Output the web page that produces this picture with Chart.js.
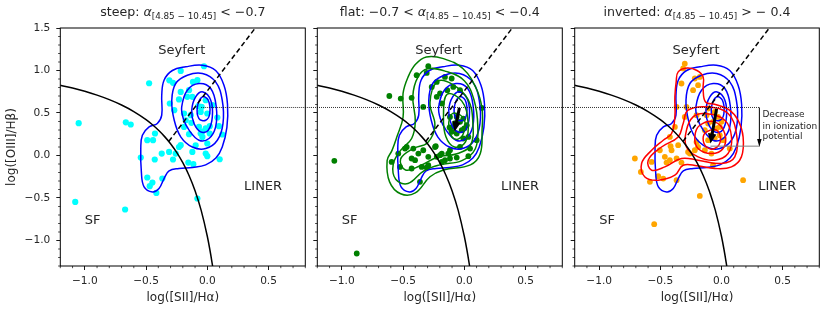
<!DOCTYPE html>
<html>
<head>
<meta charset="utf-8">
<script src="https://cdn.jsdelivr.net/npm/chart.js@4.4.1/dist/chart.umd.min.js"></script>
<style>
  html, body { margin: 0; padding: 0; background: #fff; }
  #wrap { position: relative; width: 831px; height: 311px; }
  #wrap canvas { position: absolute; top: 0; }
</style>
</head>
<body>
<div id="wrap">
  <canvas id="steepChart" width="311" height="311" style="left:0px"></canvas>
  <canvas id="flatChart" width="257" height="311" style="left:311px"></canvas>
  <canvas id="invertedChart" width="263" height="311" style="left:568px"></canvas>
</div>
<script>
const fontFamily = "'DejaVu Sans', sans-serif";
const textColor = '#262626';

// axes
const xTickVals = [-1.0, -0.5, 0.0, 0.5];
const xTickLabels = ['−1.0', '−0.5', '0.0', '0.5'];
const yTickVals = [-1.0, -0.5, 0.0, 0.5, 1.0, 1.5];
const yTickLabels = ['−1.0', '−0.5', '0.0', '0.5', '1.0', '1.5'];
const xTitle = 'log([SII]/Hα)';
const yTitle = 'log([OIII]/Hβ)';

// panel titles: plain, italic alpha, subscript, rest
const titleParts = [
  ['steep: ', 'α', '[4.85 − 10.45]', ' < −0.7'],
  ['flat: −0.7 < ', 'α', '[4.85 − 10.45]', ' < −0.4'],
  ['inverted: ', 'α', '[4.85 − 10.45]', ' > − 0.4']
];

// SF / AGN curve and Seyfert-LINER line
const sfCurve = [[-1.2, 0.826], [-1.1, 0.793], [-1.0, 0.755], [-0.9, 0.710], [-0.8, 0.657],
  [-0.7, 0.594], [-0.6, 0.517], [-0.5, 0.422], [-0.45, 0.365], [-0.4, 0.300], [-0.35, 0.225],
  [-0.3, 0.139], [-0.25, 0.037], [-0.2, -0.085], [-0.15, -0.232], [-0.1, -0.414],
  [-0.05, -0.646], [0.0, -0.950], [0.02, -1.100], [0.04, -1.271], [0.045, -1.318]];
const seyLinerLine = [[-0.315, 0.165], [0.39, 1.497]];

const regionNames = ['Seyfert', 'LINER', 'SF'];
const regionPos = [[-0.4, 1.2], [0.3, -0.4], [-1.0, -0.8]];

// sources
const steepPts = [[-1.05, 0.38], [-0.665, 0.39], [-0.625, 0.365], [-0.475, 0.85], [-0.217, 0.995],
  [-0.027, 1.05], [-0.31, 0.885], [-0.28, 0.855], [-0.117, 0.866], [-0.081, 0.886], [-0.217, 0.748],
  [-0.149, 0.768], [-0.122, 0.69], [-0.231, 0.66], [-0.073, 0.58], [-0.046, 0.572], [0.041, 0.592],
  [-0.013, 0.65], [-0.054, 0.513], [0.0, 0.494], [0.082, 0.447], [-0.306, 0.612], [-0.27, 0.533],
  [-0.19, 0.494], [-0.176, 0.415], [-0.13, 0.384], [-0.068, 0.336], [-0.013, 0.318], [0.02, 0.345],
  [0.095, 0.345], [-0.19, 0.336], [-0.149, 0.251], [-0.054, 0.259], [-0.04, 0.219], [0.0, 0.141],
  [0.122, 0.247], [-0.49, 0.18], [-0.443, 0.18], [-0.427, 0.259], [-0.231, 0.10], [-0.372, 0.023],
  [-0.312, 0.042], [-0.122, 0.042], [-0.013, 0.023], [-0.543, -0.024], [-0.429, -0.047],
  [-0.28, -0.047], [-0.258, 0.023], [-0.155, -0.083], [-0.114, -0.102], [0.0, -0.008],
  [0.101, -0.044], [-0.49, -0.259], [-0.448, -0.318], [-0.47, -0.361], [-0.367, -0.271],
  [-0.416, -0.44], [-0.081, -0.506], [-1.078, -0.546], [-0.671, -0.635], [-0.095, 0.12],
  [-0.217, 0.121], [-0.135, 0.474], [-0.163, 0.69], [-0.042, 0.28], [0.02, 0.259]];

const flatPts = [[-0.294, 1.05], [-0.389, 0.945], [-0.612, 0.70], [-0.519, 0.67], [-0.43, 0.678],
  [-0.335, 0.572], [-0.266, 0.807], [-0.225, 0.866], [-0.158, 0.925], [-0.103, 0.906], [-0.198, 0.73],
  [-0.09, 0.807], [-0.035, 0.768], [-0.184, 0.612], [-0.117, 0.454], [-0.062, 0.454], [-0.008, 0.435],
  [-0.035, 0.396], [0.02, 0.356], [-0.09, 0.336], [-0.021, 0.298], [-0.062, 0.259], [0.033, 0.219],
  [-0.103, 0.278], [-0.008, 0.20], [0.101, 0.18], [0.142, 0.56], [-0.035, 0.10], [0.047, 0.082],
  [-0.117, 0.062], [-0.184, 0.023], [-0.239, 0.10], [-0.294, -0.016], [-0.335, 0.062],
  [-0.375, 0.023], [-0.416, 0.082], [-0.43, -0.035], [-0.484, 0.082], [-0.539, 0.023],
  [-0.593, -0.075], [-0.525, -0.134], [-0.43, -0.153], [-0.348, -0.134], [-0.294, -0.114],
  [-0.198, 0.004], [-0.158, -0.055], [-0.117, -0.035], [-0.062, -0.024], [0.033, -0.008],
  [-0.362, -0.31], [-1.061, -0.063], [-0.878, -1.153], [-0.225, -0.016], [-0.184, -0.075],
  [-0.131, 0.023], [-0.307, -0.141], [-0.402, -0.055], [-0.307, 0.972], [-0.139, 0.768],
  [-0.225, 0.69], [-0.233, 0.109], [-0.47, 0.10], [-0.075, 0.38], [-0.12, 0.33], [0.0, 0.32]];

const invertedPts = [[-0.30, 1.08], [-0.313, 1.024], [-0.218, 0.906], [-0.177, 0.925], [-0.327, 0.847],
  [-0.191, 0.827], [-0.232, 0.768], [-0.367, 0.572], [-0.286, 0.572], [-0.30, 0.454], [-0.204, 0.474],
  [-0.109, 0.553], [-0.055, 0.513], [-0.028, 0.454], [-0.069, 0.396], [0.0, 0.396], [-0.109, 0.376],
  [-0.041, 0.318], [-0.136, 0.298], [-0.082, 0.239], [-0.014, 0.239], [0.013, 0.18], [-0.055, 0.20],
  [-0.109, 0.18], [-0.204, 0.16], [-0.381, 0.336], [-0.422, 0.219], [-0.354, 0.121], [-0.191, 0.10],
  [-0.136, 0.062], [-0.082, 0.023], [-0.218, 0.062], [-0.259, 0.023], [-0.504, 0.062],
  [-0.463, -0.016], [-0.422, -0.055], [-0.367, -0.035], [-0.571, -0.075], [-0.408, 0.062],
  [-0.708, -0.035], [-0.659, -0.193], [-0.585, -0.31], [-0.517, -0.244], [-0.476, -0.271],
  [-0.367, -0.29], [-0.069, -0.114], [0.068, 0.082], [0.177, -0.29], [-0.177, -0.475],
  [-0.55, -0.808], [-0.449, -0.083], [-0.327, -0.083], [-0.273, 0.042], [-0.416, 0.109],
  [-0.122, 0.474], [-0.014, 0.336]];

// density contours, outer level first
const steepKde = [
  [[-0.176, 1.043], [-0.041, 1.062], [0.068, 1.0], [0.136, 0.827], [0.165, 0.6], [0.16, 0.33],
   [0.122, 0.10], [0.07, -0.03], [-0.013, -0.11], [-0.12, -0.14], [-0.231, -0.153], [-0.312, -0.18],
   [-0.353, -0.271], [-0.394, -0.388], [-0.448, -0.428], [-0.516, -0.369], [-0.538, -0.2],
   [-0.543, 0.082], [-0.53, 0.239], [-0.475, 0.336], [-0.408, 0.376], [-0.372, 0.474],
   [-0.372, 0.709], [-0.353, 0.886], [-0.285, 1.0]],
  [[-0.29, 0.65], [-0.258, 0.847], [-0.163, 0.945], [-0.04, 0.965], [0.068, 0.866], [0.122, 0.65],
   [0.128, 0.376], [0.082, 0.18], [-0.013, 0.082], [-0.122, 0.10], [-0.217, 0.22], [-0.27, 0.415]],
  [[-0.209, 0.572], [-0.163, 0.768], [-0.068, 0.847], [0.028, 0.788], [0.073, 0.572], [0.068, 0.336],
   [0.014, 0.2], [-0.068, 0.18], [-0.149, 0.298], [-0.196, 0.435]],
  [[-0.127, 0.533], [-0.095, 0.69], [-0.035, 0.748], [0.028, 0.65], [0.041, 0.454], [0.008, 0.298],
   [-0.054, 0.278], [-0.108, 0.376]],
  [[-0.081, 0.572], [-0.04, 0.69], [0.008, 0.65], [0.02, 0.494], [-0.013, 0.415], [-0.068, 0.435]]
];

const flatKde = [
  [[-0.31, 1.16], [-0.17, 1.14], [-0.01, 1.02], [0.10, 0.78], [0.145, 0.55], [0.145, 0.30],
   [0.13, 0.02], [0.05, -0.11], [-0.17, -0.17], [-0.28, -0.25], [-0.40, -0.44], [-0.52, -0.45],
   [-0.61, -0.31], [-0.63, -0.06], [-0.59, 0.06], [-0.55, 0.22], [-0.50, 0.45], [-0.50, 0.73],
   [-0.46, 0.92], [-0.40, 1.07]],
  [[-0.30, 1.02], [-0.15, 0.99], [0.0, 0.88], [0.08, 0.65], [0.11, 0.35], [0.09, 0.08], [-0.02, -0.06],
   [-0.20, -0.11], [-0.33, -0.18], [-0.46, -0.33], [-0.56, -0.28], [-0.58, -0.10], [-0.52, 0.06],
   [-0.43, 0.20], [-0.40, 0.40], [-0.42, 0.70], [-0.38, 0.92]],
  [[-0.22, 0.87], [-0.10, 0.84], [0.03, 0.66], [0.07, 0.38], [0.05, 0.12], [-0.06, 0.02], [-0.22, -0.02],
   [-0.36, -0.12], [-0.48, -0.17], [-0.52, -0.04], [-0.42, 0.08], [-0.30, 0.15], [-0.24, 0.35],
   [-0.28, 0.62]],
  [[-0.14, 0.72], [-0.02, 0.64], [0.03, 0.40], [0.01, 0.16], [-0.08, 0.10], [-0.15, 0.22], [-0.17, 0.45]],
  [[-0.08, 0.50], [0.0, 0.42], [-0.01, 0.25], [-0.07, 0.19], [-0.12, 0.28], [-0.12, 0.44]]
];

const invertedKde = [
  [[-0.354, 0.984], [-0.28, 1.03], [-0.2, 1.0], [-0.15, 0.925], [-0.15, 0.788], [-0.13, 0.63],
   [-0.05, 0.60], [0.06, 0.54], [0.136, 0.415], [0.177, 0.219], [0.163, -0.016], [0.082, -0.134],
   [-0.055, -0.153], [-0.2, -0.12], [-0.313, -0.114], [-0.381, -0.232], [-0.517, -0.29],
   [-0.626, -0.252], [-0.653, -0.094], [-0.571, 0.062], [-0.476, 0.18], [-0.408, 0.259],
   [-0.381, 0.454], [-0.381, 0.69], [-0.37, 0.87]],
  [[-0.273, 0.533], [-0.109, 0.572], [0.054, 0.494], [0.122, 0.259], [0.109, -0.016], [0.0, -0.094],
   [-0.191, -0.055], [-0.327, -0.035], [-0.463, -0.134], [-0.571, -0.173], [-0.599, -0.055],
   [-0.49, 0.10], [-0.354, 0.219], [-0.313, 0.376]],
  [[-0.232, 0.454], [-0.136, 0.494], [0.027, 0.415], [0.082, 0.219], [0.054, 0.023], [-0.055, -0.055],
   [-0.191, -0.016], [-0.286, 0.10], [-0.286, 0.298]],
  [[-0.177, 0.356], [-0.055, 0.396], [0.027, 0.259], [0.013, 0.082], [-0.082, 0.023], [-0.191, 0.082],
   [-0.218, 0.219]],
  [[-0.122, 0.278], [-0.041, 0.298], [-0.008, 0.18], [-0.055, 0.082], [-0.122, 0.10], [-0.15, 0.2]]
];

// peak shifts and the ionization note
const peakShiftFlat = [[-0.04, 0.56], [-0.08, 0.28]];
const peakShiftInverted = [[-0.04, 0.55], [-0.09, 0.14]];
const steepPeakY = 0.565;
const steepPeakX = -0.05;
const ionArrow = [[0.31, 0.565], [0.31, 0.10]];
const ionGuide = [[-0.09, 0.11], [0.31, 0.11]];
const ionText = ['Decrease', 'in ionization', 'potential'];
const ionTextX = 0.335;
const ionTextY = [0.479, 0.345, 0.22];

const panels = {
  steepChart: { title: titleParts[0], ref: [steepPeakX, null], arrow: null, ion: false },
  flatChart: { title: titleParts[1], ref: [null, null], arrow: peakShiftFlat, ion: false },
  invertedChart: { title: titleParts[2], ref: [null, ionArrow[0][0]], arrow: peakShiftInverted, ion: true }
};

const xy = arr => arr.map(p => ({ x: p[0], y: p[1] }));

function lineSet(pts, color, width, dash) {
  return {
    data: xy(pts), showLine: true, borderColor: color, borderWidth: width,
    borderDash: dash || [], pointRadius: 0, fill: false, tension: 0
  };
}

// closed smooth loop: pad with neighbours, hide the two padding segments
function contourSets(rings, color) {
  return rings.map(r => {
    const n = r.length;
    const pts = [r[n - 1], ...r, r[0], r[1]];
    return {
      data: xy(pts), showLine: true, borderColor: color, borderWidth: 1.5,
      pointRadius: 0, fill: false, tension: 0.4,
      segment: {
        borderColor: c => (c.p0DataIndex === 0 || c.p0DataIndex === n + 1) ? 'rgba(0,0,0,0)' : color
      }
    };
  });
}

function pointSet(pts, color, r) {
  return { data: xy(pts), showLine: false, pointRadius: r, pointBackgroundColor: color, pointBorderWidth: 0, pointHoverRadius: r };
}

function drawArrow(ctx, x0, y0, x1, y1, w, hw, hl) {
  const dx = x1 - x0, dy = y1 - y0, L = Math.hypot(dx, dy);
  const ux = dx / L, uy = dy / L, nx = -uy, ny = ux;
  const bx = x1 - ux * hl, by = y1 - uy * hl;
  ctx.beginPath();
  ctx.moveTo(x0 + nx * w / 2, y0 + ny * w / 2);
  ctx.lineTo(bx + nx * w / 2, by + ny * w / 2);
  ctx.lineTo(bx + nx * hw / 2, by + ny * hw / 2);
  ctx.lineTo(x1, y1);
  ctx.lineTo(bx - nx * hw / 2, by - ny * hw / 2);
  ctx.lineTo(bx - nx * w / 2, by - ny * w / 2);
  ctx.lineTo(x0 - nx * w / 2, y0 - ny * w / 2);
  ctx.closePath();
  ctx.fill();
}

const mplPlugin = {
  id: 'mpl',
  afterDatasetsDraw(chart) {
    const p = panels[chart.canvas.id];
    const { ctx } = chart;
    const X = v => chart.scales.x.getPixelForValue(v);
    const Y = v => chart.scales.y.getPixelForValue(v);
    ctx.save();

    // region names
    ctx.font = '13px ' + fontFamily;
    ctx.fillStyle = textColor;
    ctx.textAlign = 'left';
    ctx.textBaseline = 'alphabetic';
    regionNames.forEach((t, i) => ctx.fillText(t, X(regionPos[i][0]), Y(regionPos[i][1])));

    // dotted reference at the steep peak level
    const x0 = p.ref[0] === null ? 0 : X(p.ref[0]);
    const x1 = p.ref[1] === null ? chart.width : X(p.ref[1]);
    ctx.strokeStyle = '#000';
    ctx.lineWidth = 0.8;
    ctx.setLineDash([1, 1]);
    ctx.beginPath();
    ctx.moveTo(x0, Y(steepPeakY));
    ctx.lineTo(x1, Y(steepPeakY));
    ctx.stroke();
    ctx.setLineDash([]);

    if (p.ion) {
      ctx.strokeStyle = '#808080';
      ctx.lineWidth = 1;
      ctx.beginPath();
      ctx.moveTo(X(ionGuide[0][0]), Y(ionGuide[0][1]));
      ctx.lineTo(X(ionGuide[1][0]), Y(ionGuide[1][1]));
      ctx.stroke();
      ctx.fillStyle = '#000';
      drawArrow(ctx, X(ionArrow[0][0]), Y(ionArrow[0][1]), X(ionArrow[1][0]), Y(ionArrow[1][1]), 1, 4.5, 8);
      ctx.font = '9px ' + fontFamily;
      ctx.fillStyle = textColor;
      ctx.textBaseline = 'middle';
      ionText.forEach((t, i) => ctx.fillText(t, X(ionTextX), Y(ionTextY[i])));
    }

    if (p.arrow) {
      ctx.fillStyle = '#000';
      drawArrow(ctx, X(p.arrow[0][0]), Y(p.arrow[0][1]), X(p.arrow[1][0]), Y(p.arrow[1][1]), 3, 8.5, 10);
    }
    ctx.restore();
  },
  afterDraw(chart) {
    const p = panels[chart.canvas.id];
    const { ctx, chartArea: a } = chart;
    const X = v => chart.scales.x.getPixelForValue(v);
    const Y = v => chart.scales.y.getPixelForValue(v);
    ctx.save();
    // frame
    ctx.strokeStyle = '#000';
    ctx.lineWidth = 1;
    ctx.strokeRect(a.left, a.top, a.right - a.left, a.bottom - a.top);
    // minor ticks every 0.1
    ctx.lineWidth = 0.7;
    ctx.beginPath();
    for (let i = -12; i <= 8; i++) {
      if (i % 5 === 0) continue;
      const px = X(i / 10);
      ctx.moveTo(px, a.bottom);
      ctx.lineTo(px, a.bottom + 2.2);
    }
    for (let i = -13; i <= 15; i++) {
      if (i % 5 === 0) continue;
      const py = Y(i / 10);
      ctx.moveTo(a.left, py);
      ctx.lineTo(a.left - 2.2, py);
    }
    ctx.stroke();

    // title with subscript
    const fonts = ['12.6px ' + fontFamily, 'italic 12.6px ' + fontFamily, '8.8px ' + fontFamily, '12.6px ' + fontFamily];
    const shifts = [0, 0, 2.6, 0];
    let total = 0;
    const widths = p.title.map((t, i) => { ctx.font = fonts[i]; const w = ctx.measureText(t).width; total += w; return w; });
    let cx = (a.left + a.right) / 2 - total / 2;
    ctx.fillStyle = textColor;
    ctx.textAlign = 'left';
    ctx.textBaseline = 'alphabetic';
    p.title.forEach((t, i) => {
      ctx.font = fonts[i];
      ctx.fillText(t, cx, 16 + shifts[i]);
      cx += widths[i];
    });
    ctx.restore();
  }
};

function makeChart(id, pts, ptColor, ptRadius, extraKde, extraColor, opts) {
  const datasets = [
    lineSet(sfCurve, '#000', 1.5),
    lineSet(seyLinerLine, '#000', 1.5, [5, 3]),
    ...(extraKde ? contourSets(extraKde, extraColor) : []),
    ...contourSets(steepKde, '#0000ff'),
    pointSet(pts, ptColor, ptRadius)
  ];
  datasets[0].cubicInterpolationMode = 'monotone';
  return new Chart(document.getElementById(id), {
    type: 'scatter',
    data: { datasets },
    options: {
      responsive: false,
      animation: false,
      events: [],
      layout: { padding: { left: 0, right: opts.padRight, top: 28, bottom: 0 } },
      plugins: { legend: { display: false }, tooltip: { enabled: false } },
      scales: {
        x: {
          type: 'linear', min: -1.2, max: 0.8, bounds: 'data',
          afterBuildTicks: s => { s.ticks = xTickVals.map(v => ({ value: v })); },
          afterFit: s => { s.height = 45; },
          ticks: {
            callback: v => xTickLabels[xTickVals.indexOf(v)],
            autoSkip: false, maxRotation: 0, padding: 5,
            font: { family: fontFamily, size: 10.6 }, color: textColor
          },
          grid: { drawOnChartArea: false, drawTicks: true, tickLength: 4, tickColor: '#000', tickWidth: 0.9 },
          border: { display: false },
          title: {
            display: true, text: xTitle, color: textColor,
            font: { family: fontFamily, size: 12 }, padding: { top: 0, bottom: 6 }
          }
        },
        y: {
          type: 'linear', min: -1.3, max: 1.5, bounds: 'data',
          afterBuildTicks: s => { s.ticks = yTickVals.map(v => ({ value: v })); },
          afterFit: s => { s.width = opts.yWidth; },
          ticks: {
            callback: v => opts.yLabels ? yTickLabels[yTickVals.indexOf(v)] : '',
            autoSkip: false, padding: 6,
            font: { family: fontFamily, size: 10.6 }, color: textColor
          },
          grid: { drawOnChartArea: false, drawTicks: true, tickLength: 4, tickColor: '#000', tickWidth: 0.9 },
          border: { display: false },
          title: {
            display: opts.yLabels, text: yTitle, color: textColor,
            font: { family: fontFamily, size: 12 }, padding: { top: 5, bottom: 0 }
          }
        }
      }
    },
    plugins: [mplPlugin]
  });
}

makeChart('steepChart', steepPts, '#00ffff', 3.1, null, null, { padRight: 5.7, yWidth: 60.3, yLabels: true });
makeChart('flatChart', flatPts, '#008000', 2.9, flatKde, '#008000', { padRight: 5.7, yWidth: 6.3, yLabels: false });
makeChart('invertedChart', invertedPts, '#ffa500', 2.9, invertedKde, '#ff0000', { padRight: 11.7, yWidth: 6.7, yLabels: false });
</script>
</body>
</html>
